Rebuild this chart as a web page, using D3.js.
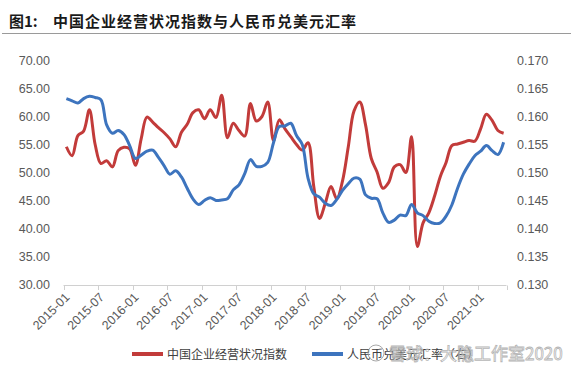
<!DOCTYPE html>
<html><head><meta charset="utf-8">
<script src="https://cdn.jsdelivr.net/npm/d3@7/dist/d3.min.js"></script>
<style>
html,body{margin:0;padding:0;background:#fff;}
svg{display:block;font-family:"Liberation Sans",Arial,sans-serif;}
</style></head>
<body>
<svg id="chart" width="573" height="369"></svg>
<script>
// ---- data ----
const months = [];
for (let y = 2015; y <= 2021; y++) {
  for (let m = 1; m <= 12; m++) {
    if (y === 2021 && m > 5) break;
    months.push(y + "-" + String(m).padStart(2, "0"));
  }
}
const tickLabels = ["2015-01","2015-07","2016-01","2016-07","2017-01","2017-07","2018-01","2018-07","2019-01","2019-07","2020-01","2020-07","2021-01"];
const businessIndex = [
  54.6,53.0,56.6,57.4,61.2,55.0,51.6,52.1,51.0,53.9,54.5,54.2,
  51.3,56.0,59.9,59.0,58.0,57.1,56.0,54.6,57.2,58.6,60.7,61.2,
  59.6,61.2,59.8,63.8,56.2,58.8,57.5,56.5,62.3,59.2,60.0,62.6,
  55.7,59.4,57.8,56.4,55.0,54.0,55.3,47.5,41.8,44.5,47.5,45.3,
  48.5,54.6,61.0,62.6,58.5,52.5,50.1,47.2,48.2,51.0,51.4,50.0,
  56.4,36.8,41.0,42.8,45.8,49.3,51.8,54.8,55.1,55.4,55.7,55.6,
  57.8,60.4,59.3,57.5,57.0
];
const cnyUsd = [
  0.1632,0.1628,0.1624,0.1632,0.1636,0.1634,0.1630,0.1585,0.1570,0.1575,0.1568,0.1548,
  0.1525,0.1531,0.1538,0.1540,0.1527,0.1512,0.1497,0.1503,0.1492,0.1472,0.1453,0.1443,
  0.1450,0.1455,0.1450,0.1451,0.1453,0.1469,0.1478,0.1498,0.1523,0.1511,0.1511,0.1518,
  0.1553,0.1582,0.1583,0.1588,0.1566,0.1550,0.1490,0.1462,0.1456,0.1445,0.1441,0.1452,
  0.1468,0.1480,0.1490,0.1488,0.1460,0.1454,0.1453,0.1428,0.1411,0.1415,0.1424,0.1423,
  0.1443,0.1428,0.1423,0.1413,0.1409,0.1410,0.1422,0.1442,0.1472,0.1497,0.1515,0.1530,
  0.1538,0.1548,0.1539,0.1532,0.1554
];
const leftTicks = [30,35,40,45,50,55,60,65,70];
const rightTicks = [0.130,0.135,0.140,0.145,0.150,0.155,0.160,0.165,0.170];
const seriesNames = ["中国企业经营状况指数","人民币兑美元汇率（右）"];
const colors = ["#C23B3A","#3D74BE"];

// ---- chart ----
const svg = d3.select("#chart");
const x = d3.scaleBand().domain(months).range([63.5, 506.5]).padding(0);
const bw = x.bandwidth();
const cx = d => x(d) + bw / 2;
const yL = d3.scaleLinear().domain([30, 70]).range([284.5, 60.5]);
const yR = d3.scaleLinear().domain([0.130, 0.170]).range([284.5, 60.5]);

// title
const cjk = "'Noto Sans CJK SC',sans-serif";
svg.append("text").attr("x", 9).attr("y", 27)
  .attr("font-family", cjk).attr("font-weight", "bold")
  .attr("font-size", 15).attr("fill", "#1a1a1a")
  .text("图1:");
svg.append("text").attr("x", 53).attr("y", 27)
  .attr("font-family", cjk).attr("font-weight", "bold")
  .attr("font-size", 15).attr("letter-spacing", 1).attr("fill", "#1a1a1a")
  .text("中国企业经营状况指数与人民币兑美元汇率");
svg.append("line").attr("x1", 2).attr("x2", 571).attr("y1", 33.5).attr("y2", 33.5)
  .attr("stroke", "#9a9a9a").attr("stroke-width", 1);

// left axis
const gl = svg.append("g").attr("transform", "translate(50,0)")
  .call(d3.axisLeft(yL).tickValues(leftTicks).tickFormat(d3.format(".2f")).tickSize(0).tickPadding(0));
gl.select(".domain").remove();
gl.selectAll("text").attr("font-size", 12.5).attr("fill", "#595959")
  .attr("font-family", "'Liberation Sans',Arial,sans-serif");

// right axis
const gr = svg.append("g").attr("transform", "translate(517,0)")
  .call(d3.axisRight(yR).tickValues(rightTicks).tickFormat(d3.format(".3f")).tickSize(0).tickPadding(0));
gr.select(".domain").remove();
gr.selectAll("text").attr("font-size", 12.5).attr("fill", "#595959")
  .attr("font-family", "'Liberation Sans',Arial,sans-serif");

// bottom axis line + tick marks at category boundaries
const gx = svg.append("g");
gx.append("line").attr("x1", 63.5).attr("x2", 506.5).attr("y1", 285.5).attr("y2", 285.5)
  .attr("stroke", "#d0d0d0").attr("stroke-width", 1);
const boundaryTicks = tickLabels.map(t => x(t)).concat([x.range()[1]]);
gx.selectAll("line.tk").data(boundaryTicks).enter().append("line").attr("class", "tk")
  .attr("x1", d => Math.round(d) + 0.5).attr("x2", d => Math.round(d) + 0.5)
  .attr("y1", 285.5).attr("y2", 290).attr("stroke", "#d0d0d0");

// bottom labels via axis
const gb = svg.append("g").attr("transform", "translate(0,285)")
  .call(d3.axisBottom(x).tickValues(tickLabels).tickSize(0).tickPadding(0));
gb.select(".domain").remove();
gb.selectAll("text")
  .attr("font-size", 12.5).attr("fill", "#595959")
  .attr("font-family", "'Liberation Sans',Arial,sans-serif")
  .attr("text-anchor", "end")
  .attr("dy", 0)
  .attr("transform", "translate(4,13) rotate(-45)");

// lines
const lineL = d3.line().x((d, i) => cx(months[i])).y(d => yL(d)).curve(d3.curveCatmullRom.alpha(0.5));
const lineR = d3.line().x((d, i) => cx(months[i])).y(d => yR(d)).curve(d3.curveCatmullRom.alpha(0.5));
svg.append("path").datum(businessIndex).attr("d", lineL)
  .attr("fill", "none").attr("stroke", colors[0]).attr("stroke-width", 3).attr("stroke-linejoin", "round");
svg.append("path").datum(cnyUsd).attr("d", lineR)
  .attr("fill", "none").attr("stroke", colors[1]).attr("stroke-width", 3).attr("stroke-linejoin", "round");

// legend
const legendX = [132, 312];
seriesNames.forEach((name, i) => {
  svg.append("line").attr("x1", legendX[i]).attr("x2", legendX[i] + 31)
    .attr("y1", 354).attr("y2", 354).attr("stroke", colors[i]).attr("stroke-width", 4);
  svg.append("text").attr("x", legendX[i] + 35).attr("y", 358.5)
    .attr("font-family", cjk).attr("font-size", 12)
    .attr("fill", "#404040").text(name);
});

// watermark
const wm = svg.append("g").attr("opacity", 0.85);
wm.append("circle").attr("cx", 376).attr("cy", 353).attr("r", 8)
  .attr("fill", "none").attr("stroke", "#999").attr("stroke-width", 1);
wm.append("text").attr("x", 389).attr("y", 360)
  .attr("font-family", cjk).attr("font-size", 17)
  .attr("fill", "#fff").attr("fill-opacity", 0.6).attr("stroke", "#aaa").attr("stroke-width", 0.8)
  .text("雪球：大隐工作室2020");
</script>
</body></html>
